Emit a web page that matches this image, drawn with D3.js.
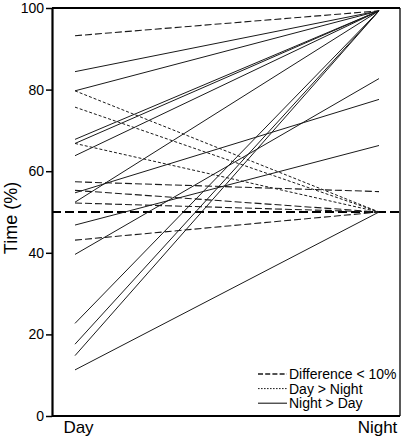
<!DOCTYPE html>
<html>
<head>
<meta charset="utf-8">
<script src="https://cdn.jsdelivr.net/npm/d3@7"></script>
<style>
  html, body { margin: 0; padding: 0; background: #fff; }
  svg { display: block; font-family: "Liberation Sans", Arial, sans-serif; }
</style>
</head>
<body>
<svg id="chart" width="407" height="440"></svg>
<script>
// ---- data ----
const categories = ["Day", "Night"];
const dayValues   = [93.2, 84.4, 79.7, 67.8, 66.8, 63.8, 52.4, 22.7, 17.6, 14.8,
                     79.7, 75.7, 66.8,
                     57.4, 55.3, 52.2, 43.1,
                     54.7, 46.8, 39.6, 11.3];
const nightValues = [99.3, 99.3, 99.3, 99.3, 99.3, 99.3, 99.3, 99.3, 99.3, 99.3,
                     50.0, 50.0, 50.0,
                     55.0, 50.0, 50.0, 50.0,
                     77.6, 66.3, 82.7, 50.0];
const lineTypes   = ["diff", "night", "night", "night", "night", "night", "night", "night", "night", "night",
                     "day", "day", "day",
                     "diff", "diff", "diff", "diff",
                     "night", "night", "night", "night"];
const referenceValue = 50;
const yTicks = [0, 20, 40, 60, 80, 100];
const legendLabels = ["Difference < 10%", "Day > Night", "Night > Day"];
const legendTypes = ["diff", "day", "night"];

// ---- layout ----
const svg = d3.select("#chart");
const mLeft = 52, mRight = 400, mTop = 8, mBottom = 416;

const x = d3.scalePoint().domain(categories).range([75, 379]);
const y = d3.scaleLinear().domain([0, 100]).range([mBottom, mTop]);

const styles = {
  diff:  { dash: "7,3", width: 1.1 },
  day:   { dash: "3,2", width: 1 },
  night: { dash: null,  width: 1 }
};

// frame
svg.append("line").attr("x1", mRight).attr("x2", mRight).attr("y1", mTop).attr("y2", mBottom)
  .attr("stroke", "#000").attr("stroke-width", 1.3);
svg.append("line").attr("x1", mLeft).attr("x2", mRight).attr("y1", mTop).attr("y2", mTop)
  .attr("stroke", "#000").attr("stroke-width", 2.2);

// reference line
svg.append("line")
  .attr("x1", mLeft).attr("x2", mRight)
  .attr("y1", y(referenceValue)).attr("y2", y(referenceValue))
  .attr("stroke", "#000").attr("stroke-width", 2)
  .attr("stroke-dasharray", "9,4");

// data lines
const rows = dayValues.map((d, i) => ({ day: d, night: nightValues[i], type: lineTypes[i] }));
svg.append("g").selectAll("line").data(rows).join("line")
  .attr("x1", x("Day")).attr("y1", d => y(d.day))
  .attr("x2", x("Night")).attr("y2", d => y(d.night))
  .attr("stroke", "#1a1a1a")
  .attr("stroke-width", d => styles[d.type].width)
  .attr("stroke-dasharray", d => styles[d.type].dash);

// y axis
const yAxis = svg.append("g").attr("transform", `translate(${mLeft},0)`)
  .call(d3.axisLeft(y).tickValues(yTicks).tickSize(6).tickSizeOuter(0).tickPadding(2));
yAxis.select(".domain").attr("stroke-width", 2.2);
yAxis.selectAll(".tick line").attr("stroke-width", 1.5);
yAxis.selectAll(".tick text").attr("font-size", 14).attr("fill", "#000")
  .attr("font-family", "'Liberation Sans', Arial, sans-serif");

// x axis
const xAxis = svg.append("g").attr("transform", `translate(0,${mBottom})`)
  .call(d3.axisBottom(x).tickSize(0).tickPadding(5));
xAxis.select(".domain").attr("d", `M${mLeft},0H${mRight}`).attr("stroke-width", 2.2);
xAxis.selectAll(".tick text").attr("font-size", 17).attr("fill", "#000")
  .attr("font-family", "'Liberation Sans', Arial, sans-serif")
  .attr("dx", d => d === "Day" ? 3 : -2);

// y title
svg.append("text")
  .attr("transform", "rotate(-90)")
  .attr("x", -218).attr("y", 17)
  .attr("text-anchor", "middle")
  .attr("font-size", 18)
  .text("Time (%)");

// legend
const legend = svg.append("g");
const legendY0 = 374, legendStep = 14.6;
const legendSample = {
  diff:  { dash: "5,2.2", width: 1.6 },
  day:   { dash: "1.6,1.4", width: 1 },
  night: { dash: null, width: 1.1 }
};
legendTypes.forEach((t, i) => {
  const yy = legendY0 + i * legendStep;
  legend.append("line")
    .attr("x1", 258).attr("x2", 287).attr("y1", yy).attr("y2", yy)
    .attr("stroke", "#1a1a1a")
    .attr("stroke-width", legendSample[t].width)
    .attr("stroke-dasharray", legendSample[t].dash);
  legend.append("text")
    .attr("x", 289).attr("y", yy).attr("dy", "0.36em")
    .attr("font-size", 14)
    .text(legendLabels[i]);
});
</script>
</body>
</html>
